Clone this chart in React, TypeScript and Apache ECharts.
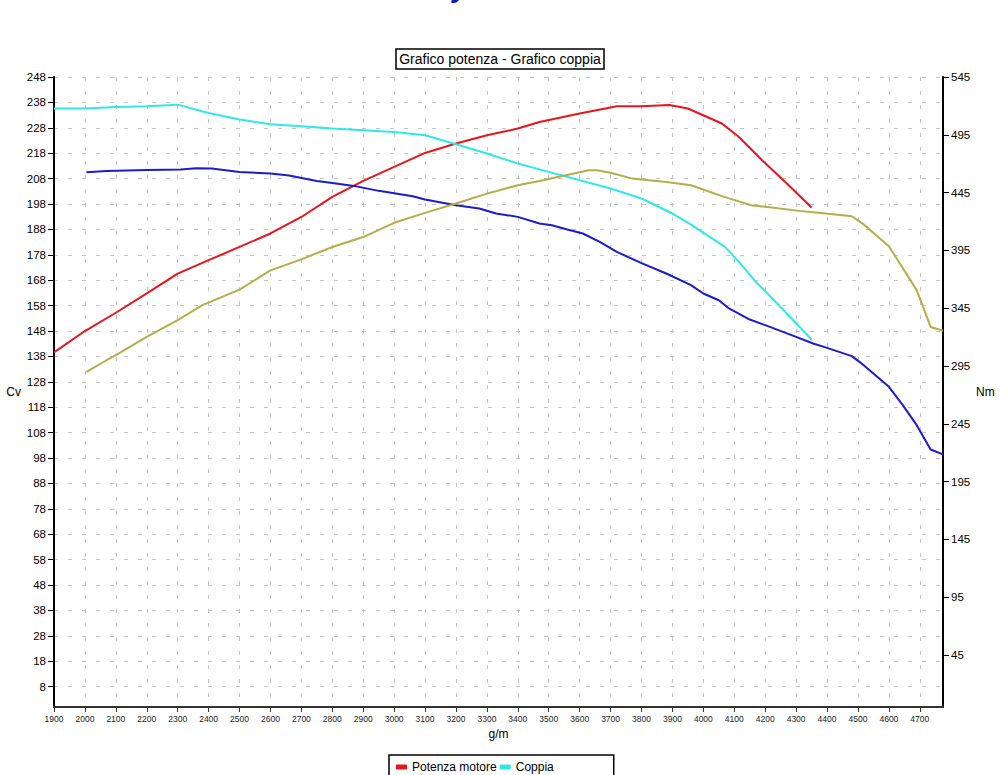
import React, { useEffect, useRef } from "react";
import * as echarts from "echarts";

// ---- tick labels ----
const rpmTicks = [
  1900, 2000, 2100, 2200, 2300, 2400, 2500, 2600, 2700, 2800, 2900, 3000, 3100, 3200, 3300,
  3400, 3500, 3600, 3700, 3800, 3900, 4000, 4100, 4200, 4300, 4400, 4500, 4600, 4700,
];
const cvTicks = [
  8, 18, 28, 38, 48, 58, 68, 78, 88, 98, 108, 118, 128, 138, 148, 158, 168, 178, 188, 198,
  208, 218, 228, 238, 248,
];
const nmTicks = [45, 95, 145, 195, 245, 295, 345, 395, 445, 495, 545];

// ---- series values [rpm, value] ----
const potenzaMotore: [number, number][] = [
  [1900, 139.6], [2000, 148.0], [2100, 155.2], [2200, 162.8], [2300, 170.6], [2400, 175.9],
  [2500, 181.1], [2600, 186.4], [2700, 192.9], [2800, 200.8], [2900, 207.1], [3000, 212.6],
  [3100, 218.1], [3200, 221.8], [3300, 225.1], [3400, 227.7], [3470, 230.3], [3600, 233.6],
  [3720, 236.5], [3800, 236.5], [3890, 237.0], [3950, 235.6], [4060, 229.7], [4115, 224.4],
  [4190, 215.2], [4270, 206.1], [4350, 196.6],
];
const coppia: [number, number][] = [
  [1900, 517.7], [2000, 517.7], [2100, 519.0], [2200, 519.7], [2300, 521.1], [2400, 513.9],
  [2500, 508.2], [2600, 504.1], [2700, 502.4], [2800, 500.4], [2900, 498.9], [3000, 497.5],
  [3100, 494.6], [3200, 486.8], [3300, 478.8], [3400, 470.1], [3500, 462.9], [3600, 455.7],
  [3700, 448.5], [3800, 439.9], [3900, 426.9], [3955, 418.2], [4070, 398.0], [4120, 383.6],
  [4165, 369.2], [4270, 340.4], [4350, 317.9],
];
const coppia2: [number, number][] = [
  [2005, 462.6], [2070, 463.7], [2200, 464.6], [2310, 464.9], [2360, 466.1], [2410, 465.8],
  [2500, 462.9], [2600, 461.5], [2660, 459.7], [2750, 455.1], [2800, 453.4], [2870, 450.8],
  [2950, 446.5], [3010, 444.0], [3060, 441.9], [3100, 439.0], [3200, 434.1], [3275, 431.2],
  [3330, 426.9], [3400, 424.0], [3470, 418.2], [3510, 416.8], [3560, 413.1], [3610, 409.6],
  [3665, 402.4], [3720, 393.7], [3800, 384.0], [3880, 375.0], [3960, 364.9], [4000, 357.7],
  [4050, 351.9], [4080, 345.3], [4150, 335.2], [4200, 330.3], [4300, 320.2], [4355, 314.5],
  [4400, 310.7], [4480, 303.5], [4505, 298.6], [4550, 288.5], [4600, 277.0], [4645, 261.1],
  [4690, 243.8], [4735, 222.8], [4775, 218.5],
];
const potenza2: [number, number][] = [
  [2005, 131.9], [2070, 136.5], [2100, 138.5], [2200, 145.7], [2300, 152.3], [2380, 158.2],
  [2500, 164.3], [2600, 171.9], [2700, 176.2], [2800, 181.1], [2900, 185.0], [3000, 190.6],
  [3100, 194.5], [3200, 198.2], [3300, 202.1], [3400, 205.4], [3470, 207.1], [3555, 209.3],
  [3630, 211.3], [3655, 211.3], [3700, 210.3], [3770, 208.0], [3880, 206.7], [3960, 205.4],
  [4060, 201.1], [4155, 197.5], [4200, 196.9], [4310, 195.3], [4380, 194.5], [4480, 193.2],
  [4515, 190.3], [4600, 181.4], [4690, 164.1], [4735, 149.6], [4775, 148.1],
];

const FONT = "'Liberation Sans', Arial, sans-serif";

export default function App() {
  const ref = useRef<HTMLDivElement>(null);
  useEffect(() => {
    if (!ref.current) return;
    const chart = echarts.init(ref.current, undefined, { renderer: "svg" });
    const dashed = { color: "#c4c4c4", width: 1, type: [4, 10] as number[] };
    chart.setOption({
      animation: false,
      backgroundColor: "#fff",
      textStyle: { fontFamily: FONT },
      title: {
        text: "Grafico potenza - Grafico coppia",
        left: "center",
        top: 49,
        padding: [3, 3, 3, 3],
        borderColor: "#000",
        borderWidth: 1.5,
        textStyle: { fontSize: 14, fontWeight: "normal", color: "#000", fontFamily: FONT, lineHeight: 14 },
      },
      graphic: [
        {
          type: "text",
          x: 432,
          y: -27,
          style: {
            text: "Dyno test",
            fontSize: 28,
            fontWeight: "bold",
            fontStyle: "italic",
            fill: "#1010c8",
            fontFamily: FONT,
            verticalAlign: "top",
            align: "left",
          },
        },
      ],
      legend: {
        data: ["Potenza motore", "Coppia"],
        left: 389,
        top: 755,
        orient: "horizontal",
        borderColor: "#000",
        borderWidth: 1.5,
        padding: [6, 60, 5, 7],
        itemWidth: 11,
        itemHeight: 5,
        itemGap: 3,
        icon: "rect",
        textStyle: { fontSize: 12, color: "#000", fontFamily: FONT },
      },
      grid: { left: 54, right: 57, top: 77, bottom: 68, containLabel: false },
      xAxis: {
        type: "value",
        min: 1900,
        max: 4775,
        name: "g/m",
        nameLocation: "middle",
        nameGap: 18,
        nameTextStyle: { fontSize: 12, color: "#000", fontFamily: FONT },
        axisLine: { show: true, onZero: false, lineStyle: { color: "#333", width: 2 } },
        axisTick: { show: true, length: 5, customValues: rpmTicks, lineStyle: { color: "#333", width: 1 } },
        axisLabel: {
          customValues: rpmTicks,
          fontSize: 8.5,
          color: "#222",
          margin: 7,
          fontFamily: FONT,
          formatter: (v: number) => String(v),
        },
        splitLine: { show: true, lineStyle: dashed },
      },
      yAxis: [
        {
          type: "value",
          min: 0,
          max: 248,
          position: "left",
          name: "Cv",
          nameLocation: "middle",
          nameRotate: 0,
          nameGap: 30,
          nameTextStyle: { fontSize: 12, color: "#000", fontFamily: FONT },
          axisLine: { show: true, onZero: false, lineStyle: { color: "#000", width: 2 } },
          axisTick: { show: true, length: 6, customValues: cvTicks, lineStyle: { color: "#000", width: 1 } },
          axisLabel: {
            customValues: cvTicks,
            fontSize: 11.5,
            color: "#000",
            margin: 8,
            fontFamily: FONT,
            formatter: (v: number) => String(v),
          },
          splitLine: { show: true, lineStyle: dashed },
        },
        {
          type: "value",
          min: 0,
          max: 545,
          position: "right",
          name: "Nm",
          nameLocation: "middle",
          nameRotate: 0,
          nameGap: 32,
          nameTextStyle: { fontSize: 12, color: "#000", fontFamily: FONT },
          axisLine: { show: true, onZero: false, lineStyle: { color: "#000", width: 2 } },
          axisTick: { show: true, length: 6, customValues: nmTicks, lineStyle: { color: "#000", width: 1 } },
          axisLabel: {
            customValues: nmTicks,
            fontSize: 11.5,
            color: "#000",
            margin: 8,
            fontFamily: FONT,
            formatter: (v: number) => String(v),
          },
          splitLine: { show: false },
        },
      ],
      series: [
        {
          name: "Potenza motore",
          type: "line",
          yAxisIndex: 0,
          data: potenzaMotore,
          showSymbol: false,
          symbol: "none",
          color: "#e8161c",
          lineStyle: { width: 2, color: "#e8161c" },
        },
        {
          name: "Coppia",
          type: "line",
          yAxisIndex: 1,
          data: coppia,
          showSymbol: false,
          symbol: "none",
          color: "#30e8ec",
          lineStyle: { width: 2, color: "#30e8ec" },
        },
        {
          name: "Coppia 2",
          type: "line",
          yAxisIndex: 1,
          data: coppia2,
          showSymbol: false,
          symbol: "none",
          color: "#1c1ccc",
          lineStyle: { width: 2, color: "#1c1ccc" },
        },
        {
          name: "Potenza motore 2",
          type: "line",
          yAxisIndex: 0,
          data: potenza2,
          showSymbol: false,
          symbol: "none",
          color: "#b4ae48",
          lineStyle: { width: 2, color: "#b4ae48" },
        },
      ],
    });
    return () => chart.dispose();
  }, []);
  return (
    <div
      ref={ref}
      style={{ position: "absolute", left: 0, top: 0, width: 1000, height: 775, background: "#fff" }}
    />
  );
}
